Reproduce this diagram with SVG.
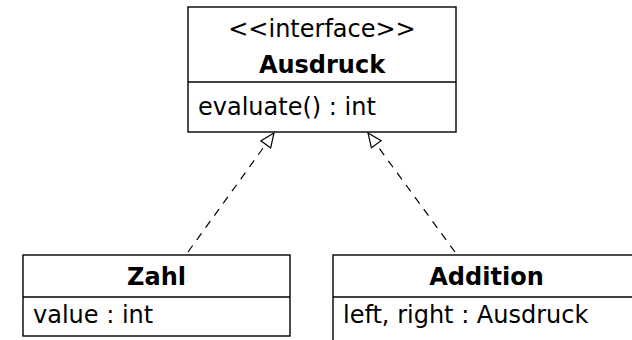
<svg xmlns="http://www.w3.org/2000/svg" width="632" height="340" viewBox="0 0 632 340">
  <style>
    .box { fill: #ffffff; stroke: #000000; stroke-width: 1.4; }
    .sep { stroke: #000000; stroke-width: 1.4; }
    text { font-family: "DejaVu Sans", "Liberation Sans", sans-serif; font-size: 24px; fill: #000000; }
    .name { font-weight: bold; text-anchor: middle; }
    .stereo { text-anchor: middle; }
    .realize { fill: none; stroke: #000000; stroke-width: 1.2; stroke-dasharray: 8 7; }
  </style>
  <defs>
    <marker id="hollow" viewBox="0 0 16 14" refX="15" refY="7" markerWidth="16" markerHeight="14" markerUnits="userSpaceOnUse" orient="auto">
      <path d="M1,1 L15,7 L1,13 Z" fill="#ffffff" stroke="#000000" stroke-width="1.2" stroke-linejoin="miter"/>
    </marker>
  </defs>

  <!-- realization connectors -->
  <g id="connectors">
    <line class="realize" x1="188" y1="252" x2="274" y2="133" marker-end="url(#hollow)"/>
    <line class="realize" x1="455" y1="252" x2="368" y2="133" marker-end="url(#hollow)"/>
  </g>

  <!-- interface Ausdruck -->
  <g id="ausdruck">
    <rect class="box" x="188" y="7" width="268" height="125"/>
    <line class="sep" x1="188" y1="82" x2="456" y2="82"/>
    <text class="stereo" x="322" y="37">&lt;&lt;interface&gt;&gt;</text>
    <text class="name" x="322" y="73">Ausdruck</text>
    <text x="198" y="115">evaluate() : int</text>
  </g>

  <!-- class Zahl -->
  <g id="zahl">
    <rect class="box" x="23" y="255" width="267" height="81"/>
    <line class="sep" x1="23" y1="297" x2="290" y2="297"/>
    <text class="name" x="156.5" y="285">Zahl</text>
    <text x="33" y="323">value : int</text>
  </g>

  <!-- class Addition -->
  <g id="addition">
    <rect class="box" x="333" y="255" width="310" height="95"/>
    <line class="sep" x1="333" y1="297" x2="643" y2="297"/>
    <text class="name" x="486.5" y="285">Addition</text>
    <text x="343" y="323">left, right : Ausdruck</text>
  </g>
</svg>
